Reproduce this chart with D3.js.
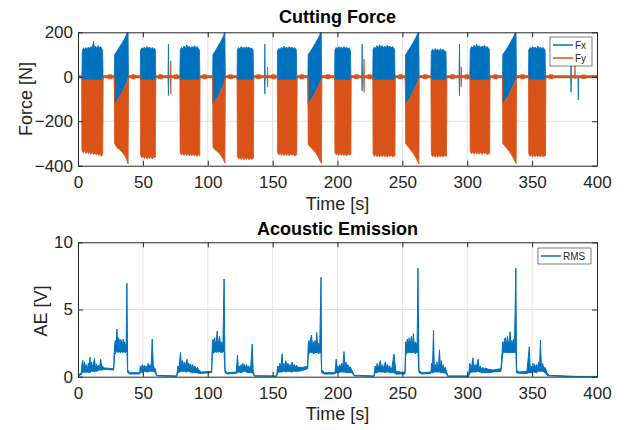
<!DOCTYPE html>
<html>
<head>
<meta charset="utf-8">
<script src="https://cdn.jsdelivr.net/npm/d3@7"></script>
<style>
  body { margin: 0; background: #fff; }
  #chart { width: 624px; height: 430px; }
  text { font-family: "Liberation Sans", Arial, Helvetica, sans-serif; fill: #262626; }
  .axis path, .axis line { stroke: #262626; }
  .axis text { font-size: 17px; }
  .grid line { stroke: #e3e3e3; }
  .title { font-size: 18px; font-weight: bold; fill: #000; }
  .axisLabel { font-size: 18px; }
  .legend text { font-size: 10px; }
</style>
</head>
<body>
<div id="chart"></div>
<script>
// 0. Data: envelopes [time, max, min] of the dense signals

const fxEnv = [
  [0,4,-4],[3,4,-4],
  [3.3,118,-18],[4.2,130,-16],[5,122,-18],[6,132,-16],[7,124,-18],[8,134,-15],[9,126,-18],[10,136,-16],[11,130,-18],[12,160,-18],[12.6,132,-16],[13.5,138,-18],[14.5,128,-15],[15.5,140,-18],[16.5,130,-16],[17.5,136,-18],[18.5,124,-15],[19,118,-15],[19.3,4,-4],
  [28,4,-4],[28.2,100,-122],[30,115,-108],[32,135,-88],[34,152,-68],[36,172,-44],[38,200,-14],[38.6,206,-6],[38.9,4,-4],
  [48,4,-4],[48.2,120,-16],[49.2,130,-18],[50.2,124,-16],[51.2,134,-18],[52.2,126,-15],[53.2,136,-18],[54.2,128,-16],[55.2,134,-18],[56.2,126,-15],[57.2,132,-18],[58.2,124,-16],[59.2,128,-15],[59.6,118,-15],[59.9,4,-4],
  [69.4,4,-4],[69.7,147,-85],[70,4,-4],
  [78.5,4,-4],[78.8,120,-16],[79.8,132,-18],[80.8,126,-16],[81.8,138,-18],[82.8,128,-15],[83.8,144,-18],[84.8,130,-16],[85.8,138,-18],[86.8,128,-15],[87.8,136,-18],[88.8,130,-16],[89.8,140,-18],[90.8,130,-15],[91.8,136,-18],[92.8,126,-16],[93.6,120,-15],[93.9,4,-4],
  [103.8,4,-4],[104,100,-122],[106,118,-105],[108,138,-85],[110,158,-62],[112,182,-36],[113.2,205,-8],[113.5,4,-4],
  [122.6,4,-4],[122.8,120,-16],[123.8,132,-18],[124.8,126,-16],[125.8,136,-18],[126.8,128,-15],[127.8,134,-18],[128.8,126,-16],[129.8,136,-18],[130.8,128,-15],[131.8,134,-18],[132.8,126,-16],[133.8,130,-15],[135,118,-15],[135.3,4,-4],
  [143.7,4,-4],[144,147,-78],[144.3,4,-4],
  [153.6,4,-4],[153.8,118,-16],[154.8,128,-18],[155.8,122,-16],[156.8,134,-18],[157.8,126,-15],[158.8,138,-18],[159.8,128,-16],[160.8,134,-18],[161.8,126,-15],[162.8,136,-18],[163.8,128,-16],[164.8,134,-18],[165.8,126,-15],[166.8,132,-18],[168.3,122,-15],[168.6,4,-4],
  [177.2,4,-4],[177.4,100,-120],[179.5,118,-105],[181.5,136,-85],[183.5,156,-62],[185.5,178,-38],[187.5,205,-8],[187.8,4,-4],
  [197.8,4,-4],[198,120,-16],[199,132,-18],[200,126,-16],[201,136,-18],[202,128,-15],[203,134,-18],[204,126,-16],[205,136,-18],[206,128,-15],[207,134,-18],[208,126,-16],[209,130,-15],[210,118,-15],[210.3,4,-4],
  [218.7,4,-4],[219,147,-63],[219.3,4,-4],
  [227.2,4,-4],[227.4,122,-16],[228.4,134,-18],[229.4,128,-16],[230.4,140,-18],[231.4,130,-15],[232.4,144,-18],[233.4,132,-16],[234.4,140,-18],[235.4,130,-15],[236.4,138,-18],[237.4,132,-16],[238.4,142,-18],[239.4,132,-15],[240.4,138,-18],[241.4,130,-16],[242.4,136,-18],[244,124,-15],[244.3,4,-4],
  [252.3,4,-4],[252.5,100,-120],[254.5,118,-105],[256.5,136,-85],[258.5,156,-62],[260.5,178,-38],[262.6,205,-8],[262.9,4,-4],
  [272,4,-4],[272.3,114,-16],[273.3,124,-18],[274.3,116,-16],[275.3,126,-18],[276.3,118,-15],[277.3,124,-18],[278.3,116,-16],[279.3,126,-18],[280.3,118,-15],[281.3,124,-18],[282.3,116,-16],[283.6,114,-15],[283.9,4,-4],
  [293.7,4,-4],[294,147,-85],[294.3,4,-4],
  [302,4,-4],[302.3,124,-16],[303.3,136,-18],[304.3,130,-16],[305.3,142,-18],[306.3,132,-15],[307.3,146,-18],[308.3,134,-16],[309.3,140,-18],[310.3,130,-15],[311.3,138,-18],[312.3,132,-16],[313.3,142,-18],[314.3,130,-15],[315.3,136,-18],[317,124,-15],[317.3,4,-4],
  [327.2,4,-4],[327.4,100,-120],[329.5,118,-105],[331.5,136,-85],[333.5,156,-62],[335.5,178,-38],[337.6,205,-8],[337.9,4,-4],
  [347.2,4,-4],[347.4,120,-16],[348.4,132,-18],[349.4,126,-16],[350.4,136,-18],[351.4,128,-15],[352.4,134,-18],[353.4,126,-16],[354.4,138,-18],[355.4,128,-15],[356.4,134,-18],[357.4,126,-16],[358.4,132,-18],[360,120,-15],[360.3,4,-4],
  [379.7,4,-4],[380,65,-70],[380.3,4,-4],[385.3,4,-4],[385.6,4,-105],[385.9,4,-4],[400,4,-4]
];

const fyEnv = [
  [0,102,-10],[0.5,4,-4],
  [2.8,4,-4],[3,-12,-330],[4,-15,-342],[5,-14,-332],[6,-16,-345],[7,-14,-336],[8,-15,-346],[9,-14,-338],[10,-16,-348],[11,-14,-340],[12,-15,-350],[13,-14,-342],[14,-16,-352],[15,-14,-344],[16,-15,-354],[17,-14,-346],[18,-16,-358],[19,-14,-350],[19.4,4,-4],
  [23,4,-4],[23.3,9,-9],[26,9,-9],[26.3,4,-4],
  [28,4,-4],[28.2,-124,-300],[30,-110,-318],[32,-90,-328],[34,-70,-338],[36,-46,-355],[37.5,-28,-372],[38.6,-12,-392],[39,4,-4],
  [41,4,-4],[41.3,9,-9],[44,9,-9],[44.3,4,-4],
  [48,4,-4],[48.2,-14,-352],[49.2,-16,-364],[50.2,-14,-356],[51.2,-15,-368],[52.2,-14,-358],[53.2,-16,-370],[54.2,-14,-360],[55.2,-15,-368],[56.2,-14,-358],[57.2,-16,-370],[58.2,-14,-360],[59.6,-14,-364],[60,4,-4],
  [62,4,-4],[62.3,9,-9],[65,9,-9],[65.3,4,-4],
  [71.2,4,-4],[71.5,72,-78],[71.8,4,-4],
  [74,4,-4],[74.3,9,-9],[77,9,-9],[77.3,4,-4],
  [78.5,4,-4],[78.7,-14,-340],[79.7,-16,-352],[80.7,-14,-344],[81.7,-15,-354],[82.7,-14,-344],[83.7,-16,-354],[84.7,-14,-346],[85.7,-15,-356],[86.7,-14,-346],[87.7,-16,-356],[88.7,-14,-348],[89.7,-15,-356],[90.7,-14,-348],[91.7,-16,-358],[92.7,-14,-350],[93.8,-14,-356],[94.1,4,-4],
  [96,4,-4],[96.3,9,-9],[99,9,-9],[99.3,4,-4],
  [103.8,4,-4],[104,-124,-318],[106,-108,-330],[108,-88,-340],[110,-64,-352],[112,-38,-372],[113.2,-12,-388],[113.6,4,-4],
  [116,4,-4],[116.3,9,-9],[119,9,-9],[119.3,4,-4],
  [122.6,4,-4],[122.8,-14,-358],[123.8,-16,-370],[124.8,-14,-362],[125.8,-15,-372],[126.8,-14,-362],[127.8,-16,-374],[128.8,-14,-364],[129.8,-15,-372],[130.8,-14,-362],[131.8,-16,-374],[132.8,-14,-364],[133.8,-15,-372],[135.2,-14,-366],[135.5,4,-4],
  [137.5,4,-4],[137.8,9,-9],[140.5,9,-9],[140.8,4,-4],
  [145.8,4,-4],[146.1,44,-47],[146.4,4,-4],
  [149,4,-4],[149.3,9,-9],[152,9,-9],[152.3,4,-4],
  [153.6,4,-4],[153.8,-14,-340],[154.8,-16,-352],[155.8,-14,-344],[156.8,-15,-354],[157.8,-14,-344],[158.8,-16,-354],[159.8,-14,-346],[160.8,-15,-354],[161.8,-14,-344],[162.8,-16,-356],[163.8,-14,-346],[164.8,-15,-354],[165.8,-14,-346],[166.8,-16,-356],[168.6,-14,-350],[168.9,4,-4],
  [171,4,-4],[171.3,9,-9],[174,9,-9],[174.3,4,-4],
  [177.2,4,-4],[177.4,-124,-305],[179.5,-108,-318],[181.5,-88,-330],[183.5,-64,-345],[185.5,-40,-365],[187.6,-12,-390],[188,4,-4],
  [191,4,-4],[191.3,9,-9],[194,9,-9],[194.3,4,-4],
  [197.8,4,-4],[198,-14,-340],[199,-16,-352],[200,-14,-344],[201,-15,-354],[202,-14,-344],[203,-16,-354],[204,-14,-346],[205,-15,-354],[206,-14,-346],[207,-16,-356],[208,-14,-346],[209,-15,-352],[210.3,-14,-348],[210.6,4,-4],
  [213,4,-4],[213.3,9,-9],[216,9,-9],[216.3,4,-4],
  [220.2,4,-4],[220.5,80,-70],[220.8,4,-4],
  [223,4,-4],[223.3,9,-9],[226,9,-9],[226.3,4,-4],
  [227.2,4,-4],[227.4,-14,-346],[228.4,-16,-358],[229.4,-14,-350],[230.4,-15,-360],[231.4,-14,-350],[232.4,-16,-360],[233.4,-14,-352],[234.4,-15,-360],[235.4,-14,-350],[236.4,-16,-360],[237.4,-14,-352],[238.4,-15,-362],[239.4,-14,-352],[240.4,-16,-360],[241.4,-14,-352],[242.4,-15,-360],[244.3,-14,-355],[244.6,4,-4],
  [247,4,-4],[247.3,9,-9],[250,9,-9],[250.3,4,-4],
  [252.3,4,-4],[252.5,-124,-300],[254.5,-108,-315],[256.5,-88,-330],[258.5,-64,-345],[260.5,-40,-365],[262.7,-12,-392],[263,4,-4],
  [266,4,-4],[266.3,9,-9],[269,9,-9],[269.3,4,-4],
  [272,4,-4],[272.3,-14,-348],[273.3,-16,-360],[274.3,-14,-352],[275.3,-15,-362],[276.3,-14,-352],[277.3,-16,-362],[278.3,-14,-352],[279.3,-15,-362],[280.3,-14,-352],[281.3,-16,-362],[282.3,-14,-354],[284,-14,-358],[284.3,4,-4],
  [287,4,-4],[287.3,9,-9],[290,9,-9],[290.3,4,-4],
  [295.1,4,-4],[295.4,45,-45],[295.7,4,-4],
  [298,4,-4],[298.3,9,-9],[301,9,-9],[301.3,4,-4],
  [302,4,-4],[302.3,-14,-334],[303.3,-16,-346],[304.3,-14,-338],[305.3,-15,-348],[306.3,-14,-338],[307.3,-16,-348],[308.3,-14,-340],[309.3,-15,-348],[310.3,-14,-338],[311.3,-16,-350],[312.3,-14,-340],[313.3,-15,-348],[314.3,-14,-340],[315.3,-16,-350],[317.3,-14,-344],[317.6,4,-4],
  [320,4,-4],[320.3,9,-9],[323,9,-9],[323.3,4,-4],
  [327.2,4,-4],[327.4,-124,-300],[329.5,-108,-315],[331.5,-88,-330],[333.5,-64,-345],[335.5,-40,-365],[337.7,-12,-390],[338,4,-4],
  [341,4,-4],[341.3,9,-9],[344,9,-9],[344.3,4,-4],
  [347.2,4,-4],[347.4,-14,-346],[348.4,-16,-358],[349.4,-14,-350],[350.4,-15,-360],[351.4,-14,-350],[352.4,-16,-360],[353.4,-14,-352],[354.4,-15,-360],[355.4,-14,-350],[356.4,-16,-362],[357.4,-14,-352],[358.4,-15,-360],[360.3,-14,-354],[360.6,4,-4],
  [363,4,-4],[363.3,9,-9],[366,9,-9],[366.3,4,-4],
  [382.7,4,-4],[383,57,-10],[383.3,4,-4],
  [388,4,-4],[388.3,8,-8],[391,8,-8],[391.3,4,-4],
  [400,4,-4]
];

// AE RMS envelope [time, min, max]
const aeEnv = [
  [0,0.05,0.1],[2.5,0.15,0.3],
  [3,0.3,0.9],[3.7,0.3,1.2],[4.4,0.35,0.6],[5,0.3,1.1],[5.8,0.35,0.7],[6.5,0.3,0.9],[7.2,0.35,0.6],[8,0.3,1.0],[8.6,0.35,0.7],[9.2,0.3,1.45],[9.8,0.35,0.7],[10.5,0.4,1.1],[11.2,0.4,0.7],[12,0.4,1.0],[12.7,0.35,1.35],[13.4,0.4,0.7],[14.2,0.4,0.95],[15,0.45,0.7],[15.8,0.45,0.85],[16.6,0.5,0.7],[17.5,0.5,1.3],[18.3,0.5,0.7],[19,0.5,0.8],[20,0.55,0.65],
  [27.5,0.5,0.6],
  [28.2,1.8,2.4],[28.8,1.7,2.7],[29.4,1.9,2.3],[30,1.9,3.55],[30.6,1.8,2.4],[31.2,1.8,2.9],[31.8,1.9,2.3],[32.4,1.8,2.8],[33,1.8,2.3],[33.6,1.9,2.7],[34.2,1.8,2.2],[34.8,1.8,2.8],[35.4,1.9,2.3],[36,1.8,2.6],[36.6,1.8,2.2],[37.1,1.85,2.5],[37.7,1.9,6.95],[38.3,0.3,0.5],
  [40,0.2,0.3],[47.5,0.2,0.3],
  [48,0.3,0.8],[48.8,0.35,0.6],[49.5,0.3,0.9],[50.3,0.35,0.6],[51,0.4,0.85],[51.8,0.35,0.6],[52.5,0.4,0.8],[53.3,0.35,0.6],[54,0.35,1.0],[54.8,0.4,0.65],[55.5,0.4,0.9],[56.3,0.4,0.65],[57.2,0.4,2.8],[58,0.4,0.9],[58.8,0.35,0.6],[59.6,0.3,0.6],[60.5,0.05,0.1],
  [76,0.02,0.06],
  [77,0.3,0.8],[78,0.35,0.7],[79,0.35,1.8],[79.7,0.4,0.8],[80.4,0.4,1.2],[81.1,0.4,0.75],[81.8,0.4,1.1],[82.5,0.4,0.7],[83.2,0.35,1.0],[84,0.35,1.3],[84.7,0.4,0.7],[85.4,0.4,1.0],[86.1,0.35,0.7],[86.8,0.35,0.95],[87.6,0.3,0.65],[88.4,0.3,0.9],[89.2,0.3,0.6],[90,0.3,0.8],[91,0.3,0.55],[92,0.28,0.7],[93,0.25,0.5],[95,0.25,0.35],[103,0.3,0.4],
  [103.5,1.8,2.4],[104.1,1.7,2.8],[104.7,1.9,2.3],[105.3,1.8,2.9],[106,1.9,2.4],[106.6,1.8,2.7],[107.3,1.9,3.4],[107.9,1.8,2.3],[108.5,1.9,2.7],[109.2,1.9,3.0],[109.8,1.8,2.3],[110.4,1.8,2.6],[111,1.8,2.3],[111.7,1.85,2.6],[112.6,1.9,7.27],[113.3,0.3,0.5],
  [115,0.2,0.3],[122,0.25,0.35],
  [122.9,0.3,1.6],[123.6,0.35,0.6],[124.3,0.35,0.8],[125,0.3,0.6],[125.7,0.3,0.9],[126.4,0.35,0.6],[127.1,0.35,1.0],[127.8,0.4,0.65],[128.5,0.4,0.9],[129.2,0.35,0.6],[130,0.35,0.9],[130.8,0.3,0.6],[131.6,0.3,0.8],[132.4,0.3,0.55],[133.2,0.3,0.8],[134.3,0.3,2.43],[135,0.2,0.4],[136,0.03,0.08],
  [153,0.02,0.06],
  [154,0.3,0.8],[154.8,0.35,0.6],[155.6,0.35,1.0],[156.4,0.35,0.65],[157.3,0.35,1.7],[158,0.4,0.7],[158.7,0.4,1.0],[159.4,0.4,0.7],[160.2,0.35,1.2],[161,0.35,0.7],[161.8,0.4,1.0],[162.6,0.4,0.7],[163.4,0.4,0.9],[164.2,0.35,0.65],[165,0.35,1.1],[165.8,0.4,0.7],[166.6,0.4,0.9],[167.4,0.4,0.65],[168.2,0.4,0.85],[170,0.4,0.7],[174,0.5,0.7],[177,0.6,0.8],
  [177.4,1.6,2.4],[178,1.7,2.7],[178.6,1.8,2.3],[179.3,1.8,2.8],[180,1.8,3.1],[180.7,1.8,2.3],[181.4,1.7,2.6],[182,1.7,2.3],[182.7,1.8,2.7],[183.4,1.8,2.3],[184,1.8,3.3],[184.7,1.8,2.3],[185.5,1.7,2.5],[186.3,1.8,2.3],[187.3,1.8,7.4],[187.8,0.3,0.5],
  [190,0.2,0.3],[198,0.2,0.3],
  [199,0.3,1.3],[199.7,0.3,0.6],[200.4,0.3,0.8],[201.1,0.3,0.55],[201.8,0.35,0.9],[202.5,0.35,0.6],[203.2,0.35,1.0],[204,0.35,0.65],[205,0.35,1.86],[205.8,0.35,0.7],[206.5,0.3,1.1],[207.2,0.3,0.65],[208,0.3,0.9],[208.8,0.3,0.6],[209.6,0.3,0.75],[211,0.3,0.5],[213,0.05,0.1],
  [228,0.02,0.06],
  [229,0.3,0.8],[229.8,0.3,0.55],[230.6,0.3,1.0],[231.4,0.35,0.6],[232.2,0.35,0.9],[233,0.35,1.2],[233.8,0.35,0.65],[234.6,0.35,0.9],[235.4,0.35,0.6],[236.2,0.3,0.9],[237,0.3,1.1],[237.8,0.35,0.6],[238.6,0.35,0.9],[239.4,0.35,0.6],[240.2,0.3,0.8],[241,0.3,0.55],[242,0.3,0.7],[243.5,0.3,1.69],[245,0.2,0.4],[252,0.2,0.3],
  [252.5,1.6,2.6],[253.1,1.7,2.3],[253.8,1.8,2.8],[254.5,1.8,2.3],[255.2,1.8,2.9],[255.9,1.8,2.3],[256.5,1.8,2.7],[257,1.8,3.0],[257.7,1.8,2.3],[258.5,1.8,3.2],[259.2,1.8,2.3],[260,1.7,2.6],[260.8,1.8,2.3],[261.4,1.8,2.6],[262,1.8,8.07],[262.8,0.3,0.5],
  [265,0.2,0.3],[272,0.25,0.35],
  [272.5,0.3,1.0],[273.2,0.3,0.6],[274,0.3,3.47],[274.6,0.35,0.6],[275.3,0.35,0.9],[276,0.35,0.6],[276.7,0.35,1.1],[277.4,0.35,0.65],[278,0.35,0.9],[278.6,0.35,2.0],[279.3,0.3,0.7],[280,0.3,1.2],[280.7,0.3,0.6],[281.4,0.3,0.9],[282.2,0.3,0.55],[283,0.25,0.7],[284,0.2,0.4],[285,0.02,0.06],
  [301,0.02,0.06],
  [302,0.3,1.0],[302.8,0.3,0.6],[303.6,0.35,0.9],[304.4,0.35,1.4],[305.2,0.35,0.65],[306,0.35,0.9],[306.8,0.35,0.6],[307.6,0.4,1.0],[308.4,0.4,1.3],[309.2,0.35,0.6],[310,0.35,0.8],[311,0.3,0.55],[312,0.3,0.7],[313,0.3,0.55],[314,0.3,0.65],[316,0.3,0.55],[320,0.35,0.5],[326,0.4,0.6],
  [327.4,1.7,2.6],[328,1.8,2.3],[328.7,1.8,2.8],[329.5,1.8,2.9],[330.2,1.8,2.3],[331,1.8,3.0],[331.7,1.8,2.4],[332.4,1.8,2.7],[333,1.8,3.35],[333.7,1.8,2.3],[334.4,1.8,2.7],[335,1.8,2.4],[335.7,1.8,2.8],[336.4,1.8,2.3],[337.5,1.8,8.07],[338,0.3,0.5],
  [340,0.25,0.35],[346,0.25,0.4],
  [347.8,0.3,2.23],[348.5,0.3,0.6],[349.2,0.3,0.8],[349.9,0.3,0.55],[350.6,0.35,1.0],[351.3,0.35,0.6],[352,0.35,0.9],[352.7,0.3,0.6],[353.4,0.3,0.9],[354.1,0.35,0.65],[355,0.4,1.1],[355.7,0.4,0.7],[356.4,0.4,2.73],[357.1,0.4,0.7],[358,0.4,1.0],[359,0.35,0.6],[360,0.3,0.7],[361.5,0.1,0.3],[363,0.05,0.1],
  [380,0.01,0.04],[385,0,0.02],[400,0,0.02]
];

const timeTicks = [0, 50, 100, 150, 200, 250, 300, 350, 400];
const forceTicks = [-400, -200, 0, 200];
const aeTicks = [0, 5, 10];

// 1. Define and create SVG canvas

const width = 624;
const height = 430;

const svg = d3.select("#chart")
    .append("svg")
    .attr("width", width)
    .attr("height", height);

const margin = { left: 78, right: 27 };
const blue = "#0072BD";
const orange = "#D95319";

const xScale = d3.scaleLinear()
    .domain([0, 400])
    .range([margin.left, width - margin.right]);

// 2. Helpers that draw one MATLAB-like axes box

function drawAxes(yScale, yTicks, id) {
    const top = yScale.range()[1];
    const bottom = yScale.range()[0];

    svg.append("defs").append("clipPath")
        .attr("id", id)
        .append("rect")
            .attr("x", xScale(0))
            .attr("y", top)
            .attr("width", xScale(400) - xScale(0))
            .attr("height", bottom - top);

    const grid = svg.append("g").attr("class", "grid");
    grid.selectAll(".gx")
        .data(timeTicks.slice(1, -1))
        .enter()
        .append("line")
            .attr("x1", d => xScale(d))
            .attr("x2", d => xScale(d))
            .attr("y1", top)
            .attr("y2", bottom);
    grid.selectAll(".gy")
        .data(yTicks.slice(1, -1))
        .enter()
        .append("line")
            .attr("x1", xScale(0))
            .attr("x2", xScale(400))
            .attr("y1", d => yScale(d))
            .attr("y2", d => yScale(d));

    return svg.append("g").attr("clip-path", `url(#${id})`);
}

function finishAxes(yScale, yTicks) {
    const top = yScale.range()[1];
    const bottom = yScale.range()[0];

    svg.append("g")
        .attr("class", "axis")
        .attr("transform", `translate(0,${bottom})`)
        .call(d3.axisBottom(xScale).tickValues(timeTicks).tickSizeInner(-5).tickSizeOuter(0).tickPadding(10));

    svg.append("g")
        .attr("class", "axis")
        .attr("transform", `translate(0,${top})`)
        .call(d3.axisTop(xScale).tickValues(timeTicks).tickSizeInner(-5).tickSizeOuter(0).tickFormat(""));

    svg.append("g")
        .attr("class", "axis")
        .attr("transform", `translate(${xScale(0)},0)`)
        .call(d3.axisLeft(yScale).tickValues(yTicks).tickSizeInner(-5).tickSizeOuter(0).tickPadding(5));

    svg.append("g")
        .attr("class", "axis")
        .attr("transform", `translate(${xScale(400)},0)`)
        .call(d3.axisRight(yScale).tickValues(yTicks).tickSizeInner(-5).tickSizeOuter(0).tickFormat(""));
}

// 3. Cutting force subplot

const yForce = d3.scaleLinear()
    .domain([-400, 200])
    .range([165.7, 32.3]);

const forcePlot = drawAxes(yForce, forceTicks, "clipForce");

const forceArea = d3.area()
    .x(d => xScale(d[0]))
    .y0(d => yForce(d[2]))
    .y1(d => yForce(d[1]));

forcePlot.append("path")
    .datum(fxEnv)
    .attr("d", forceArea)
    .attr("fill", blue)
    .attr("stroke", blue)
    .attr("stroke-width", 0.8);

forcePlot.append("path")
    .datum(fyEnv)
    .attr("d", forceArea)
    .attr("fill", orange)
    .attr("stroke", orange)
    .attr("stroke-width", 0.8);

finishAxes(yForce, forceTicks);

// 4. Acoustic emission subplot

const yAE = d3.scaleLinear()
    .domain([0, 10])
    .range([376.7, 242.3]);

const aePlot = drawAxes(yAE, aeTicks, "clipAE");

const aeArea = d3.area()
    .x(d => xScale(d[0]))
    .y0(d => yAE(d[1]))
    .y1(d => yAE(d[2]));

aePlot.append("path")
    .datum(aeEnv)
    .attr("d", aeArea)
    .attr("fill", blue)
    .attr("stroke", blue)
    .attr("stroke-width", 1);

finishAxes(yAE, aeTicks);

// 5. Titles and axis labels

const cx = (xScale(0) + xScale(400)) / 2;

svg.append("text").attr("class", "title")
    .attr("x", cx).attr("y", 23).attr("text-anchor", "middle")
    .text("Cutting Force");

svg.append("text").attr("class", "title")
    .attr("x", cx).attr("y", 235).attr("text-anchor", "middle")
    .text("Acoustic Emission");

svg.append("text").attr("class", "axisLabel")
    .attr("x", cx).attr("y", 210).attr("text-anchor", "middle")
    .text("Time [s]");

svg.append("text").attr("class", "axisLabel")
    .attr("x", cx).attr("y", 420).attr("text-anchor", "middle")
    .text("Time [s]");

svg.append("text").attr("class", "axisLabel")
    .attr("transform", "rotate(-90)")
    .attr("x", -99).attr("y", 32).attr("text-anchor", "middle")
    .text("Force [N]");

svg.append("text").attr("class", "axisLabel")
    .attr("transform", "rotate(-90)")
    .attr("x", -311).attr("y", 47).attr("text-anchor", "middle")
    .text("AE [V]");

// 6. Legends

function legend(x, y, w, items) {
    const g = svg.append("g").attr("class", "legend");
    g.append("rect")
        .attr("x", x).attr("y", y)
        .attr("width", w).attr("height", items.length * 13 + 3)
        .attr("fill", "#fff").attr("stroke", "#262626").attr("stroke-width", 0.6);
    items.forEach(function(item, i) {
        const cy = y + 8 + i * 13;
        g.append("line")
            .attr("x1", x + 3).attr("x2", x + 23)
            .attr("y1", cy).attr("y2", cy)
            .attr("stroke", item.color).attr("stroke-width", 1.5);
        g.append("text")
            .attr("x", x + 25).attr("y", cy + 3.5)
            .text(item.name);
    });
}

legend(550, 37, 42, [{ name: "Fx", color: blue }, { name: "Fy", color: orange }]);
legend(538, 248, 53, [{ name: "RMS", color: blue }]);
</script>
</body>
</html>
